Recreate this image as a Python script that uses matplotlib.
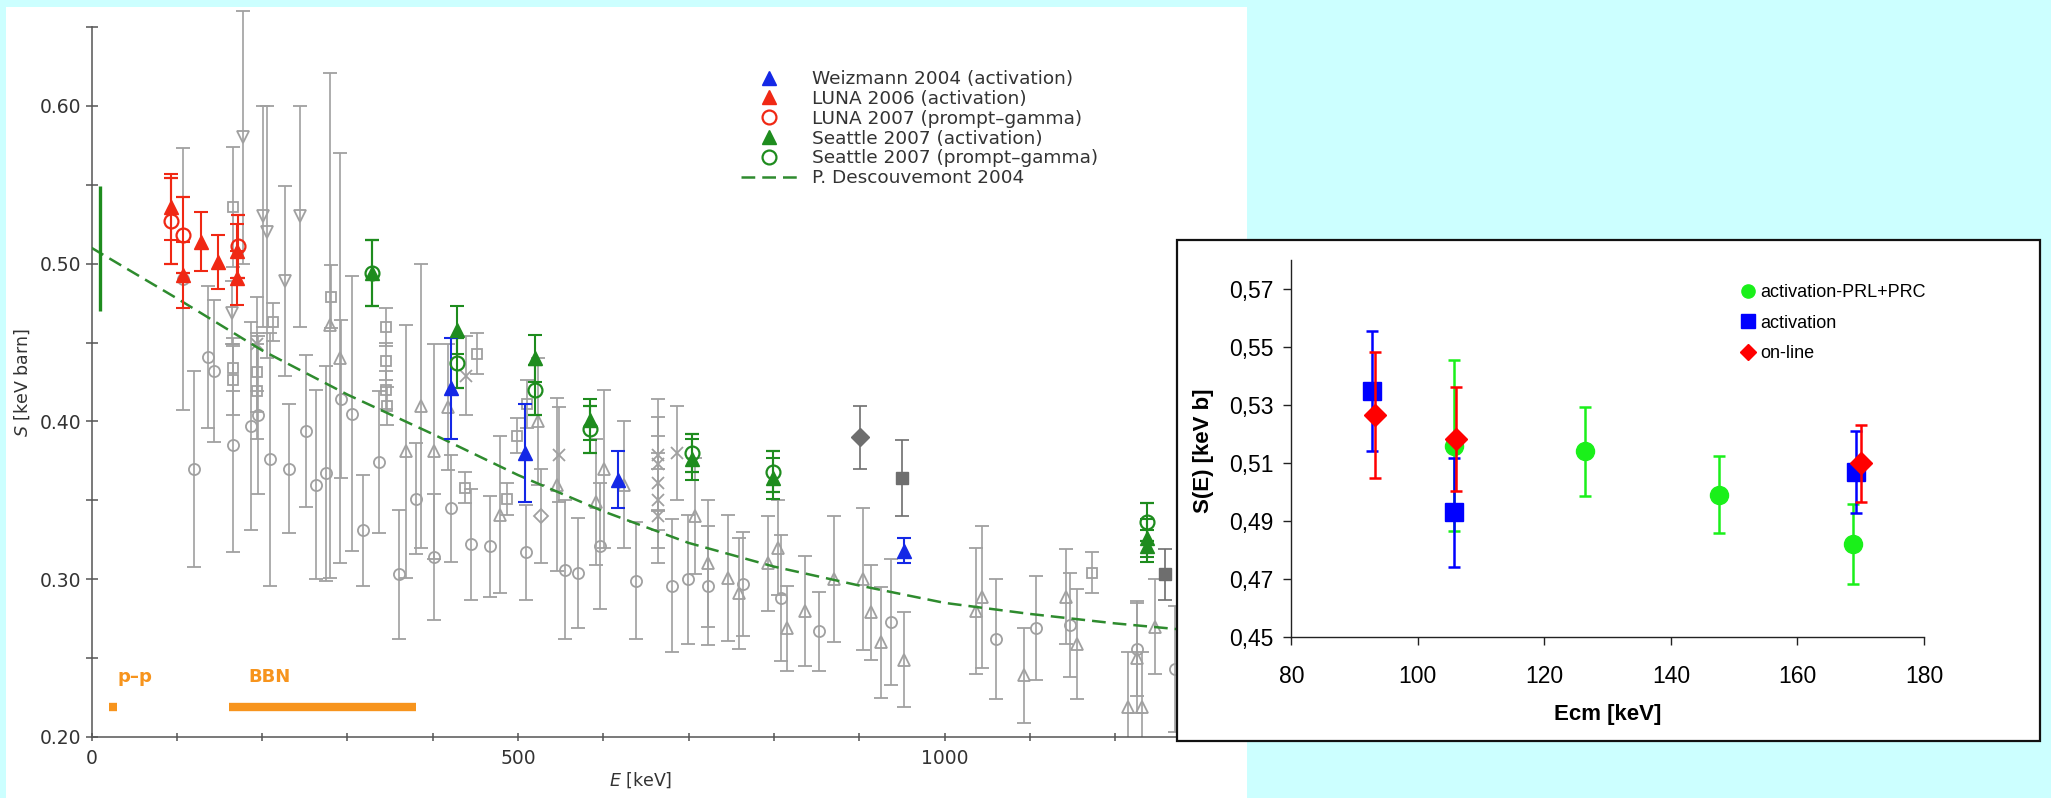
import numpy as np
import matplotlib
matplotlib.use("Agg")
import matplotlib.pyplot as plt
from matplotlib.lines import Line2D
from matplotlib.patches import Rectangle
from matplotlib.ticker import FuncFormatter

# ---------------- main panel data: E [keV], S [keV barn], error ----------------
weiz_E = [421, 508, 617, 952]
weiz_S = [0.421, 0.380, 0.363, 0.318]
weiz_err = [0.032, 0.031, 0.018, 0.008]

luna06_E = [93, 107, 128, 148, 171, 171]
luna06_S = [0.536, 0.493, 0.514, 0.501, 0.508, 0.491]
luna06_err = [0.021, 0.021, 0.019, 0.017, 0.017, 0.017]

luna07_E = [93, 107, 172]
luna07_S = [0.527, 0.518, 0.511]
luna07_err = [0.027, 0.024, 0.020]

sea_act_E = [329, 428, 520, 584, 704, 799, 1237, 1237]
sea_act_S = [0.494, 0.458, 0.440, 0.401, 0.376, 0.364, 0.326, 0.321]
sea_act_err = [0.021, 0.015, 0.015, 0.013, 0.013, 0.013, 0.012, 0.010]

sea_pg_E = [329, 428, 520, 584, 704, 799, 1237]
sea_pg_S = [0.494, 0.437, 0.420, 0.395, 0.380, 0.368, 0.336]
sea_pg_err = [0.021, 0.016, 0.016, 0.015, 0.012, 0.013, 0.012]

theory_E = [0, 100, 200, 300, 400, 500, 600, 700, 800, 900, 1000, 1100, 1200, 1300, 1360]
theory_S = [0.510, 0.478, 0.445, 0.417, 0.392, 0.366, 0.343, 0.323, 0.308, 0.296,
            0.285, 0.278, 0.272, 0.267, 0.265]

s0_E = 10
s0_low, s0_high = 0.470, 0.549

# older data sets (grey)
old_circ_E = [107, 120, 137, 144, 166, 187, 195, 209, 231, 252, 263, 275, 293, 305, 318,
              337, 360, 380, 401, 422, 445, 467, 509, 555, 570, 596, 638, 681, 699, 723,
              764, 808, 853, 937, 1060, 1107, 1147, 1226, 1270]
old_circ_S = [0.490, 0.370, 0.441, 0.432, 0.385, 0.397, 0.404, 0.376, 0.370, 0.394, 0.360,
              0.367, 0.414, 0.405, 0.331, 0.374, 0.303, 0.351, 0.314, 0.345, 0.322, 0.321,
              0.317, 0.306, 0.304, 0.321, 0.299, 0.296, 0.300, 0.296, 0.297, 0.288, 0.267,
              0.273, 0.262, 0.269, 0.271, 0.256, 0.243]
old_circ_err = [0.083, 0.062, 0.045, 0.045, 0.068, 0.066, 0.050, 0.080, 0.041, 0.048, 0.060,
                0.068, 0.050, 0.087, 0.035, 0.045, 0.041, 0.035, 0.040, 0.034, 0.035, 0.032,
                0.030, 0.044, 0.035, 0.040, 0.037, 0.042, 0.041, 0.038, 0.033, 0.040, 0.025,
                0.040, 0.038, 0.033, 0.033, 0.030, 0.040]

old_sq_E = [166, 166, 166, 194, 194, 213, 281, 345, 345, 345, 347, 438, 452, 487, 499, 510, 1173]
old_sq_S = [0.536, 0.434, 0.426, 0.431, 0.419, 0.463, 0.479, 0.460, 0.438, 0.420, 0.410,
            0.358, 0.443, 0.351, 0.391, 0.411, 0.304]
old_sq_err = [0.038, 0.015, 0.022, 0.025, 0.030, 0.012, 0.020, 0.012, 0.012, 0.012, 0.012,
              0.010, 0.013, 0.010, 0.011, 0.015, 0.013]

old_up_E = [280, 291, 369, 386, 401, 418, 479, 524, 546, 591, 601, 624, 707, 723, 746, 759,
            793, 805, 815, 836, 870, 904, 914, 926, 953, 1037, 1044, 1093, 1143, 1155, 1215,
            1226, 1231, 1247]
old_up_S = [0.461, 0.440, 0.381, 0.410, 0.381, 0.409, 0.341, 0.400, 0.360, 0.349, 0.370,
            0.360, 0.340, 0.310, 0.301, 0.291, 0.310, 0.320, 0.269, 0.280, 0.300, 0.300,
            0.279, 0.260, 0.249, 0.280, 0.289, 0.239, 0.289, 0.259, 0.219, 0.250, 0.219, 0.270]
old_up_err = [0.160, 0.130, 0.080, 0.090, 0.068, 0.040, 0.050, 0.040, 0.055, 0.040, 0.050,
              0.040, 0.037, 0.040, 0.040, 0.035, 0.030, 0.030, 0.027, 0.035, 0.040, 0.045,
              0.030, 0.035, 0.030, 0.040, 0.045, 0.030, 0.030, 0.035, 0.035, 0.035, 0.035, 0.030]

old_down_E = [165, 178, 201, 206, 227, 244]
old_down_S = [0.469, 0.580, 0.530, 0.520, 0.489, 0.530]
old_down_err = [0.020, 0.080, 0.070, 0.080, 0.060, 0.070]

old_x_E = [194, 439, 548, 664, 664, 664, 664, 664, 686]
old_x_S = [0.449, 0.429, 0.379, 0.379, 0.373, 0.361, 0.350, 0.340, 0.380]
old_x_err = [0.030, 0.025, 0.030, 0.035, 0.030, 0.030, 0.030, 0.030, 0.030]

old_dia_E = [527]
old_dia_S = [0.340]
old_dia_err = [0.030]

dark_dia_E = [901]
dark_dia_S = [0.390]
dark_dia_err = [0.020]
dark_sq_E = [950, 1259]
dark_sq_S = [0.364, 0.303]
dark_sq_err = [0.024, 0.016]

band_labels = ["p\u2013p", "BBN"]
band_lo = [20, 161]
band_hi = [30, 381]
band_S = 0.219

legend_labels = ["Weizmann 2004 (activation)", "LUNA 2006 (activation)",
                 "LUNA 2007 (prompt\u2013gamma)", "Seattle 2007 (activation)",
                 "Seattle 2007 (prompt\u2013gamma)", "P. Descouvemont 2004"]

# ---------------- inset data: Ecm [keV], S(E) [keV b] ----------------
ins_prl_E = [105.7, 126.4, 147.6, 168.7]
ins_prl_S = [0.516, 0.514, 0.499, 0.482]
ins_prl_err = [0.0295, 0.0152, 0.0133, 0.0139]

ins_act_E = [92.8, 105.7, 169.3]
ins_act_S = [0.535, 0.493, 0.507]
ins_act_err = [0.0207, 0.0188, 0.0141]

ins_on_E = [93.3, 106.1, 170.1]
ins_on_S = [0.5266, 0.5183, 0.5100]
ins_on_err = [0.0218, 0.0180, 0.0133]

ins_labels = ["activation-PRL+PRC", "activation", "on-line"]

# ---------------- styling ----------------
W, H, DPI = 2051, 798, 100
BG = "#CCFFFF"
GREY = "#a0a0a0"
DGREY = "#6e6e6e"
RED = "#F02814"
BLUE = "#1428E6"
GREEN = "#1E8C1E"
ORANGE = "#F7941D"
TXT = "#333333"

plt.rcParams["font.family"] = ["DejaVu Sans"]
plt.rcParams["mathtext.fontset"] = "dejavusans"

fig = plt.figure(figsize=(W / DPI, H / DPI), dpi=DPI)
fig.patch.set_facecolor(BG)


def fx(px):
    return px / W


def fy(py):
    return 1 - py / H


# white panel behind main chart
fig.add_artist(Rectangle((fx(6), 0), fx(1247) - fx(6), fy(7), transform=fig.transFigure,
                         facecolor="white", edgecolor="none", zorder=-5))

# ---------------- main axes ----------------
x0, x1 = 91.5, 1247
yb, yt = 737, 3
pxE = 0.853
pxS = 1578
ax = fig.add_axes([fx(x0), fy(yb), fx(x1) - fx(x0), (yb - yt) / H])
ax.patch.set_alpha(0)
ax.set_xlim(0, (x1 - x0) / pxE)
ax.set_ylim(0.2, 0.2 + (yb - yt) / pxS)

for s in ("top", "right"):
    ax.spines[s].set_visible(False)
ax.spines["left"].set_bounds(0.2, 0.65)
for s in ("left", "bottom"):
    ax.spines[s].set_color("#555555")
    ax.spines[s].set_linewidth(1.1)

yt_vals = np.round(np.arange(0.20, 0.651, 0.05), 2)
ax.set_yticks(yt_vals)
ax.set_yticklabels([f"{v:.2f}" if abs(v * 10 - round(v * 10)) < 1e-6 else "" for v in yt_vals])
xt_vals = np.arange(0, 1301, 100)
ax.set_xticks(xt_vals)
ax.set_xticklabels([str(v) if v in (0, 500, 1000) else "" for v in xt_vals])
ax.tick_params(axis="y", direction="inout", length=9, width=1.1, color="#555555",
               labelsize=13.5, labelcolor=TXT, pad=3)
ax.tick_params(axis="x", direction="inout", length=6, width=1.1, color="#555555",
               labelsize=13.5, labelcolor=TXT, pad=6)

ax.set_ylabel(r"$S$ [keV barn]", fontsize=12.5, color=TXT)
ax.yaxis.set_label_coords((22 - x0) / (x1 - x0), (yb - 383) / (yb - yt))
ax.yaxis.label.set_va("center")
ax.set_xlabel(r"$E$ [keV]", fontsize=12.5, color=TXT)
ax.xaxis.set_label_coords((641 - x0) / (x1 - x0), (yb - 780) / (yb - yt))
ax.xaxis.label.set_va("center")

ekw = dict(ecolor=GREY, elinewidth=1.2, capsize=4.7, capthick=1.2, ls="none", zorder=2)
ax.errorbar(old_circ_E, old_circ_S, yerr=old_circ_err, fmt="o", ms=8, mfc="none",
            mec=GREY, mew=1.3, **ekw)
ax.errorbar(old_sq_E, old_sq_S, yerr=old_sq_err, fmt="s", ms=7, mfc="none",
            mec=GREY, mew=1.3, **ekw)
ax.errorbar(old_up_E, old_up_S, yerr=old_up_err, fmt="^", ms=8, mfc="none",
            mec=GREY, mew=1.3, **ekw)
ax.errorbar(old_down_E, old_down_S, yerr=old_down_err, fmt="v", ms=8.5, mfc="none",
            mec=GREY, mew=1.3, **ekw)
ax.errorbar(old_x_E, old_x_S, yerr=old_x_err, fmt="x", ms=8, mec=GREY, mew=1.3, **ekw)
ax.errorbar(old_dia_E, old_dia_S, yerr=old_dia_err, fmt="D", ms=7, mfc="none",
            mec=GREY, mew=1.3, **ekw)
ekd = dict(ekw, ecolor=DGREY)
ax.errorbar(dark_dia_E, dark_dia_S, yerr=dark_dia_err, fmt="D", ms=9, color=DGREY, **ekd)
ax.errorbar(dark_sq_E, dark_sq_S, yerr=dark_sq_err, fmt="s", ms=9, color=DGREY, **ekd)

# theory curve
dash = (0, (5.5, 2.8))
ax.plot(theory_E, theory_S, color="#2E8B2E", lw=1.8, ls=dash, zorder=3)

# S(0) bar
ax.vlines(s0_E, s0_low, s0_high, color=GREEN, lw=2.4, zorder=3)

# energy windows
ax.hlines([band_S] * len(band_lo), band_lo, band_hi, color=ORANGE, lw=6, zorder=3)
for lab, lo in zip(band_labels, [31, 184]):
    ax.text(lo, band_S + 0.019, lab, color=ORANGE, fontsize=13, fontweight="bold",
            ha="left", va="center")

ckw = dict(elinewidth=1.5, capsize=5, capthick=1.5, ls="none", zorder=5)
ax.errorbar(sea_pg_E, sea_pg_S, yerr=sea_pg_err, fmt="o", ms=10, mfc="none", mec=GREEN,
            mew=1.6, ecolor=GREEN, **ckw)
ax.errorbar(sea_act_E, sea_act_S, yerr=sea_act_err, fmt="^", ms=10, color=GREEN,
            ecolor=GREEN, **ckw)
ax.errorbar(luna07_E, luna07_S, yerr=luna07_err, fmt="o", ms=10, mfc="none", mec=RED,
            mew=1.6, ecolor=RED, **ckw)
ax.errorbar(luna06_E, luna06_S, yerr=luna06_err, fmt="^", ms=10, color=RED,
            ecolor=RED, **ckw)
ax.errorbar(weiz_E, weiz_S, yerr=weiz_err, fmt="^", ms=10, color=BLUE,
            ecolor=BLUE, **ckw)

handles = [
    Line2D([], [], marker="^", ls="none", color=BLUE, ms=10),
    Line2D([], [], marker="^", ls="none", color=RED, ms=10),
    Line2D([], [], marker="o", ls="none", mfc="none", mec=RED, mew=1.6, ms=10),
    Line2D([], [], marker="^", ls="none", color=GREEN, ms=10),
    Line2D([], [], marker="o", ls="none", mfc="none", mec=GREEN, mew=1.6, ms=10),
    Line2D([], [], ls=dash, color="#2E8B2E", lw=1.8),
]
leg = ax.legend(handles, legend_labels, loc="upper left",
                bbox_to_anchor=(fx(741), fy(70)), bbox_transform=fig.transFigure,
                frameon=False, fontsize=13.3, handlelength=3.08, handletextpad=0.76,
                labelspacing=0.1, borderpad=0, borderaxespad=0)
for t in leg.get_texts():
    t.set_color(TXT)

# ---------------- inset ----------------
fig.add_artist(Rectangle((fx(1177), fy(741)), fx(2040) - fx(1177), (741 - 240) / H,
                         transform=fig.transFigure, facecolor="white",
                         edgecolor="#111111", lw=1.6, zorder=5))

ix0, ix1 = 1291.3, 1924
iyb, iyt = 636.8, 260.4
ax2 = fig.add_axes([fx(ix0), fy(iyb), fx(ix1) - fx(ix0), (iyb - iyt) / H], zorder=6)
ax2.patch.set_alpha(0)
ax2.set_xlim(80, 180)
ax2.set_ylim(0.45, 0.58)
for s in ("top", "right"):
    ax2.spines[s].set_visible(False)
for s in ("left", "bottom"):
    ax2.spines[s].set_color("#222222")
    ax2.spines[s].set_linewidth(1.0)
ax2.set_xticks(np.arange(80, 181, 20))
ax2.set_yticks(np.round(np.arange(0.45, 0.571, 0.02), 2))
ax2.yaxis.set_major_formatter(FuncFormatter(lambda v, p: f"{v:.2f}".replace(".", ",")))
ifont = "Liberation Sans"
ax2.tick_params(axis="both", direction="out", length=6, width=1.0, color="#222222",
                labelsize=16.5, labelcolor="black")
ax2.tick_params(axis="x", pad=14)
ax2.tick_params(axis="y", pad=7)
for lab in ax2.get_xticklabels() + ax2.get_yticklabels():
    lab.set_fontfamily(ifont)

ax2.set_xlabel("Ecm [keV]", fontsize=16, fontweight="bold", family=ifont)
ax2.xaxis.set_label_coords(0.5, (iyb - 714.6) / (iyb - iyt))
ax2.xaxis.label.set_va("center")
ax2.set_ylabel("S(E) [keV b]", fontsize=16, fontweight="bold", family=ifont)
ax2.yaxis.set_label_coords((1204 - ix0) / (ix1 - ix0), (iyb - 451) / (iyb - iyt))
ax2.yaxis.label.set_va("center")

IGREEN = "#1AF01A"
IBLUE = "#0000FF"
IRED = "#FF0000"
ikw = dict(elinewidth=1.8, capsize=4, capthick=1.8, ls="none")
ax2.errorbar(ins_prl_E, ins_prl_S, yerr=ins_prl_err, fmt="o", ms=13, color=IGREEN,
             ecolor=IGREEN, zorder=3, **ikw)
ax2.errorbar(ins_act_E, ins_act_S, yerr=ins_act_err, fmt="s", ms=13, color=IBLUE,
             ecolor=IBLUE, zorder=4, **ikw)
ax2.errorbar(ins_on_E, ins_on_S, yerr=ins_on_err, fmt="D", ms=11, color=IRED,
             ecolor=IRED, zorder=5, **ikw)

ih = [
    Line2D([], [], marker="o", ls="none", color=IGREEN, ms=9.5),
    Line2D([], [], marker="s", ls="none", color=IBLUE, ms=9.5),
    Line2D([], [], marker="D", ls="none", color=IRED, ms=8),
]
leg2 = ax2.legend(ih, ins_labels, loc="upper left",
                  bbox_to_anchor=(fx(1741), fy(284)), bbox_transform=fig.transFigure,
                  frameon=False, prop={"family": ifont, "size": 13}, handlelength=0.8,
                  handletextpad=0.25, labelspacing=0.75, borderpad=0, borderaxespad=0)

fig.savefig("out.png", dpi=DPI, facecolor=fig.get_facecolor())
